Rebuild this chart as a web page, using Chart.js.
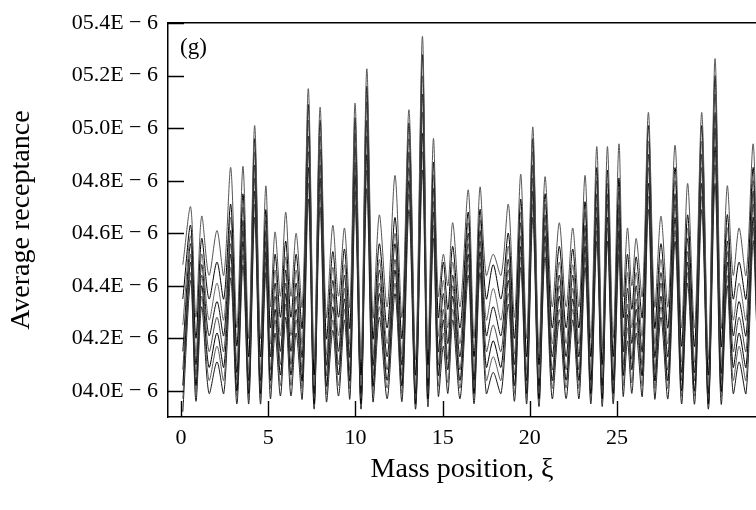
<!DOCTYPE html>
<html>
<head>
<meta charset="utf-8">
<script src="https://cdn.jsdelivr.net/npm/chart.js@4"></script>
<style>
  html, body { margin: 0; padding: 0; background: #fff; }
  #wrap { position: relative; width: 756px; height: 510px; }
</style>
</head>
<body>
<div id="wrap"><canvas id="c" width="756" height="510"></canvas></div>
<script>
// mass positions: peaks and troughs of the response (xi)
const xi = [
  0.1, 0.55, 0.85, 1.18, 1.6, 2.06, 2.45, 2.85, 3.2, 3.55,
  3.88, 4.22, 4.55, 4.86, 5.12, 5.39, 5.7, 6.0, 6.3, 6.6,
  6.95, 7.3, 7.63, 7.97, 8.33, 8.7, 9.03, 9.37, 9.68, 9.98,
  10.32, 10.65, 11.0, 11.37, 11.82, 12.27, 12.67, 13.07, 13.45, 13.84,
  14.15, 14.47, 14.75, 15.04, 15.3, 15.58, 16.0, 16.47, 16.8, 17.14,
  17.5, 17.9, 18.35, 18.77, 19.12, 19.48, 19.82, 20.17, 20.52, 20.87,
  21.28, 21.69, 22.08, 22.46, 22.82, 23.17, 23.5, 23.84, 24.15, 24.45,
  24.78, 25.11, 25.35, 25.6, 25.85, 26.1, 26.45, 26.8, 27.16, 27.52,
  27.92, 28.33, 28.7, 29.05, 29.45, 29.86, 30.24, 30.62, 30.97, 31.32,
  31.66, 32.0, 32.4, 32.8, 33.0
];

// average receptance, units of 1E-6
const curve1 = [
  4.48, 4.70, 4.28, 4.665, 4.44, 4.61, 4.44, 4.85, 4.24, 4.855,
  4.20, 5.01, 4.20, 4.78, 4.32, 4.605, 4.36, 4.68, 4.36, 4.60,
  4.32, 5.15, 4.12, 5.08, 4.28, 4.63, 4.36, 4.62, 4.32, 5.095,
  4.12, 5.226, 4.28, 4.67, 4.32, 4.82, 4.28, 5.07, 4.12, 5.35,
  4.16, 4.96, 4.36, 4.52, 4.40, 4.64, 4.32, 4.765, 4.20, 4.775,
  4.44, 4.52, 4.44, 4.71, 4.28, 4.825, 4.20, 5.005, 4.16, 4.815,
  4.32, 4.64, 4.32, 4.62, 4.32, 4.82, 4.20, 4.93, 4.16, 4.93,
  4.20, 4.94, 4.36, 4.62, 4.40, 4.58, 4.36, 5.06, 4.32, 4.665,
  4.32, 4.935, 4.24, 4.79, 4.24, 5.06, 4.12, 5.265, 4.24, 4.78,
  4.44, 4.62, 4.44, 4.94, 4.55
];
const curve2 = [
  4.35, 4.63, 4.20, 4.58, 4.35, 4.49, 4.35, 4.71, 4.17, 4.75,
  4.13, 4.96, 4.13, 4.69, 4.24, 4.52, 4.28, 4.57, 4.28, 4.52,
  4.24, 5.09, 4.06, 5.03, 4.20, 4.53, 4.28, 4.54, 4.24, 5.04,
  4.06, 5.16, 4.20, 4.56, 4.24, 4.66, 4.20, 5.02, 4.06, 5.28,
  4.10, 4.87, 4.28, 4.49, 4.31, 4.55, 4.24, 4.68, 4.13, 4.69,
  4.35, 4.48, 4.35, 4.60, 4.20, 4.73, 4.13, 4.96, 4.10, 4.75,
  4.24, 4.55, 4.24, 4.54, 4.24, 4.72, 4.13, 4.85, 4.10, 4.84,
  4.13, 4.81, 4.28, 4.52, 4.31, 4.51, 4.28, 5.01, 4.24, 4.56,
  4.24, 4.85, 4.17, 4.67, 4.17, 5.01, 4.06, 5.20, 4.17, 4.67,
  4.35, 4.49, 4.35, 4.85, 4.48
];
const curve3 = [
  4.25, 4.59, 4.14, 4.52, 4.27, 4.41, 4.27, 4.66, 4.11, 4.70,
  4.08, 4.91, 4.08, 4.65, 4.18, 4.46, 4.21, 4.51, 4.21, 4.46,
  4.18, 5.03, 4.02, 4.97, 4.14, 4.47, 4.21, 4.48, 4.18, 4.98,
  4.02, 5.10, 4.14, 4.50, 4.18, 4.60, 4.14, 4.96, 4.02, 5.20,
  4.05, 4.82, 4.21, 4.42, 4.24, 4.49, 4.18, 4.64, 4.08, 4.65,
  4.27, 4.39, 4.27, 4.55, 4.14, 4.68, 4.08, 4.91, 4.05, 4.71,
  4.18, 4.49, 4.18, 4.48, 4.18, 4.68, 4.08, 4.80, 4.05, 4.79,
  4.08, 4.76, 4.21, 4.45, 4.24, 4.45, 4.21, 4.95, 4.18, 4.50,
  4.18, 4.80, 4.11, 4.62, 4.11, 4.95, 4.02, 5.13, 4.11, 4.62,
  4.27, 4.41, 4.27, 4.80, 4.43
];
const curve4 = [
  4.15, 4.56, 4.10, 4.48, 4.21, 4.34, 4.21, 4.61, 4.07, 4.65,
  4.04, 4.86, 4.04, 4.61, 4.13, 4.41, 4.15, 4.46, 4.15, 4.41,
  4.13, 4.97, 3.99, 4.92, 4.10, 4.42, 4.15, 4.44, 4.13, 4.93,
  3.99, 5.03, 4.10, 4.46, 4.13, 4.56, 4.10, 4.91, 3.99, 5.13,
  4.02, 4.77, 4.15, 4.37, 4.18, 4.44, 4.13, 4.60, 4.04, 4.61,
  4.21, 4.32, 4.21, 4.50, 4.10, 4.64, 4.04, 4.86, 4.02, 4.67,
  4.13, 4.44, 4.13, 4.44, 4.13, 4.63, 4.04, 4.75, 4.02, 4.75,
  4.04, 4.71, 4.15, 4.39, 4.18, 4.40, 4.15, 4.90, 4.13, 4.45,
  4.13, 4.75, 4.07, 4.58, 4.07, 4.90, 3.99, 5.06, 4.07, 4.57,
  4.21, 4.34, 4.21, 4.76, 4.39
];
const curve5 = [
  4.08, 4.52, 4.06, 4.44, 4.15, 4.28, 4.15, 4.56, 4.04, 4.61,
  4.01, 4.81, 4.01, 4.57, 4.08, 4.36, 4.10, 4.41, 4.10, 4.36,
  4.08, 4.91, 3.97, 4.86, 4.06, 4.37, 4.10, 4.39, 4.08, 4.87,
  3.97, 4.97, 4.06, 4.41, 4.08, 4.50, 4.06, 4.85, 3.97, 5.06,
  3.99, 4.72, 4.10, 4.31, 4.12, 4.40, 4.08, 4.56, 4.01, 4.57,
  4.15, 4.25, 4.15, 4.46, 4.06, 4.59, 4.01, 4.81, 3.99, 4.63,
  4.08, 4.40, 4.08, 4.39, 4.08, 4.59, 4.01, 4.70, 3.99, 4.71,
  4.01, 4.66, 4.10, 4.33, 4.12, 4.35, 4.10, 4.85, 4.08, 4.41,
  4.08, 4.71, 4.04, 4.53, 4.04, 4.85, 3.97, 5.00, 4.04, 4.53,
  4.15, 4.28, 4.15, 4.71, 4.35
];
const curve6 = [
  4.02, 4.49, 4.02, 4.40, 4.09, 4.22, 4.09, 4.52, 4.00, 4.57,
  3.99, 4.76, 3.99, 4.53, 4.04, 4.31, 4.06, 4.37, 4.06, 4.31,
  4.04, 4.85, 3.95, 4.81, 4.02, 4.32, 4.06, 4.35, 4.04, 4.82,
  3.95, 4.90, 4.02, 4.37, 4.04, 4.46, 4.02, 4.80, 3.95, 4.98,
  3.97, 4.68, 4.06, 4.27, 4.08, 4.36, 4.04, 4.52, 3.99, 4.53,
  4.09, 4.19, 4.09, 4.42, 4.02, 4.55, 3.99, 4.76, 3.97, 4.59,
  4.04, 4.36, 4.04, 4.35, 4.04, 4.55, 3.99, 4.66, 3.97, 4.66,
  3.99, 4.61, 4.06, 4.29, 4.08, 4.31, 4.06, 4.79, 4.04, 4.36,
  4.04, 4.66, 4.00, 4.49, 4.00, 4.79, 3.95, 4.93, 4.00, 4.49,
  4.09, 4.22, 4.09, 4.66, 4.32
];
const curve7 = [
  3.97, 4.45, 3.99, 4.36, 4.04, 4.17, 4.04, 4.47, 3.98, 4.52,
  3.97, 4.71, 3.97, 4.49, 4.01, 4.27, 4.02, 4.33, 4.02, 4.27,
  4.01, 4.79, 3.94, 4.75, 3.99, 4.27, 4.02, 4.31, 4.01, 4.76,
  3.94, 4.84, 3.99, 4.32, 4.01, 4.41, 3.99, 4.75, 3.94, 4.91,
  3.95, 4.63, 4.02, 4.22, 4.03, 4.31, 4.01, 4.48, 3.97, 4.49,
  4.04, 4.13, 4.04, 4.37, 3.99, 4.51, 3.97, 4.71, 3.95, 4.55,
  4.01, 4.31, 4.01, 4.31, 4.01, 4.51, 3.97, 4.61, 3.95, 4.62,
  3.97, 4.56, 4.02, 4.24, 4.03, 4.26, 4.02, 4.74, 4.01, 4.32,
  4.01, 4.61, 3.98, 4.45, 3.98, 4.74, 3.94, 4.86, 3.98, 4.44,
  4.04, 4.17, 4.04, 4.62, 4.29
];
const curve8 = [
  3.92, 4.42, 3.96, 4.32, 3.99, 4.11, 3.99, 4.43, 3.95, 4.48,
  3.95, 4.66, 3.95, 4.45, 3.97, 4.22, 3.98, 4.28, 3.98, 4.22,
  3.97, 4.73, 3.93, 4.70, 3.96, 4.23, 3.98, 4.27, 3.97, 4.71,
  3.93, 4.77, 3.96, 4.28, 3.97, 4.37, 3.96, 4.69, 3.93, 4.84,
  3.94, 4.58, 3.98, 4.17, 3.99, 4.27, 3.97, 4.44, 3.95, 4.45,
  3.99, 4.07, 3.99, 4.33, 3.96, 4.47, 3.95, 4.66, 3.94, 4.51,
  3.97, 4.27, 3.97, 4.27, 3.97, 4.47, 3.95, 4.57, 3.94, 4.57,
  3.95, 4.52, 3.98, 4.19, 3.99, 4.22, 3.98, 4.69, 3.97, 4.28,
  3.97, 4.57, 3.95, 4.41, 3.95, 4.69, 3.93, 4.79, 3.95, 4.40,
  3.99, 4.11, 3.99, 4.57, 4.26
];

const curves = [curve1, curve2, curve3, curve4, curve5, curve6, curve7, curve8];
const curveColors = ['#555555', '#000000', '#666666', '#111111', '#444444', '#000000', '#5a5a5a', '#1a1a1a'];

const yTicks = [4.0, 4.2, 4.4, 4.6, 4.8, 5.0, 5.2, 5.4];
const xTicks = [0, 5, 10, 15, 20, 25];

const FONT = "'Liberation Serif', 'DejaVu Serif', serif";
const TICK_IN = 16;

const innerTicks = {
  id: 'innerTicks',
  afterDraw(chart) {
    const { ctx, chartArea: a, scales } = chart;
    ctx.save();
    ctx.strokeStyle = '#000';
    ctx.lineWidth = 1.4;
    ctx.beginPath();
    yTicks.forEach(v => {
      const y = Math.round(scales.y.getPixelForValue(v)) + 0.5;
      ctx.moveTo(a.left, y); ctx.lineTo(a.left + TICK_IN, y);
    });
    xTicks.forEach(v => {
      const x = Math.round(scales.x.getPixelForValue(v)) + 0.5;
      ctx.moveTo(x, a.bottom); ctx.lineTo(x, a.bottom - TICK_IN);
    });
    ctx.stroke();
    ctx.fillStyle = '#000';
    ctx.font = '23px ' + FONT;
    ctx.textBaseline = 'middle';
    ctx.fillText('(g)', a.left + 12, a.top + 25);
    ctx.restore();
  }
};

new Chart(document.getElementById('c'), {
  type: 'line',
  data: {
    datasets: curves.map((c, i) => ({
      data: xi.map((x, k) => ({ x, y: c[k] })),
      borderColor: curveColors[i],
      borderWidth: 1,
      pointRadius: 0,
      tension: 0.3,
      fill: false
    }))
  },
  options: {
    responsive: false,
    animation: false,
    layout: { padding: { left: 0, right: 0, top: 0, bottom: 24 } },
    plugins: { legend: { display: false }, tooltip: { enabled: false } },
    scales: {
      x: {
        type: 'linear',
        min: -0.75,
        max: 32.97,
        afterBuildTicks: s => { s.ticks = xTicks.map(v => ({ value: v })); },
        afterFit: s => { s.height = 69; },
        grid: { display: false, drawTicks: false },
        border: { display: true, color: '#000', width: 1.5 },
        ticks: { color: '#000', padding: 8, maxRotation: 0, font: { family: FONT, size: 22 } },
        title: { display: true, text: 'Mass position, ξ', color: '#000', padding: { top: 0, bottom: 0 }, font: { family: FONT, size: 28 } }
      },
      xTop: {
        type: 'linear',
        position: 'top',
        min: -0.75,
        max: 32.97,
        afterFit: s => { s.height = 15; },
        grid: { display: false, drawTicks: false },
        border: { display: true, color: '#000', width: 1.5 },
        ticks: { display: false }
      },
      y: {
        min: 3.9,
        max: 5.4,
        afterBuildTicks: s => { s.ticks = yTicks.map(v => ({ value: v })); },
        afterFit: s => { s.width = 168; },
        grid: { display: false, drawTicks: false },
        border: { display: true, color: '#000', width: 1.5 },
        ticks: {
          color: '#000', padding: 10, font: { family: FONT, size: 22 },
          callback: v => '0' + v.toFixed(1) + 'E \u2212 6'
        },
        title: { display: true, text: 'Average receptance', color: '#000', padding: { top: 5, bottom: 0 }, font: { family: FONT, size: 28 } }
      }
    }
  },
  plugins: [innerTicks]
});
</script>
</body>
</html>
